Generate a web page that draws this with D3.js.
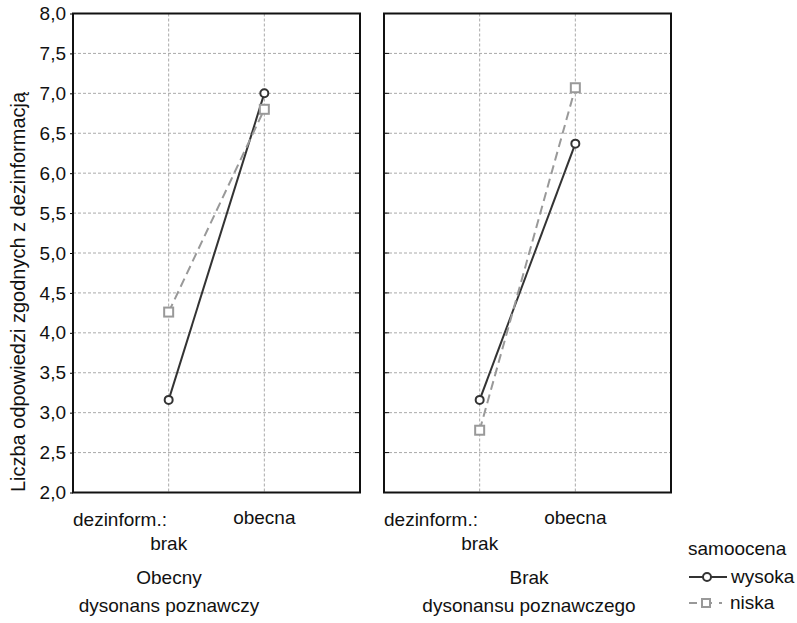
<!DOCTYPE html>
<html>
<head>
<meta charset="utf-8">
<script src="https://cdn.jsdelivr.net/npm/d3@7"></script>
<style>
  body { margin: 0; background: #fff; }
  text { font-family: 'Liberation Sans', Arial, sans-serif; fill: #111; }
</style>
</head>
<body>
<div id="chart"></div>
<script>
// data
var categories = ['brak', 'obecna'];
var panelTop = ['Obecny', 'Brak'];
var panelBottom = ['dysonans poznawczy', 'dysonansu poznawczego'];
var wysoka = [[3.16, 7.00], [3.16, 6.37]];
var niska = [[4.26, 6.80], [2.78, 7.07]];
var yTicks = [2.0, 2.5, 3.0, 3.5, 4.0, 4.5, 5.0, 5.5, 6.0, 6.5, 7.0, 7.5, 8.0];

var W = 797, H = 623;
var fs = 19;

var svg = d3.select('#chart').append('svg')
    .attr('width', W)
    .attr('height', H);

var yTop = 13.5, yBottom = 492.5;
var panelX = [73, 384], panelW = 287;

var yScale = d3.scaleLinear().domain([2, 8]).range([yBottom, yTop]);
var fmt = function(v) { return d3.format('.1f')(v).replace('.', ','); };

var series = [
    { name: 'wysoka', values: wysoka, color: '#333', dash: null, marker: 'circle' },
    { name: 'niska', values: niska, color: '#999', dash: '9,5', marker: 'square' }
];

panelX.forEach(function(px, p) {
    var g = svg.append('g').attr('transform', 'translate(' + px + ',0)');
    var xScale = d3.scalePoint().domain(categories).range([0, panelW]).padding(1);

    // grid
    g.selectAll('.hgrid').data(yTicks.slice(1, -1)).enter().append('line')
        .attr('x1', 0).attr('x2', panelW)
        .attr('y1', d => yScale(d)).attr('y2', d => yScale(d))
        .attr('stroke', '#aaa').attr('stroke-dasharray', '3,2');
    g.selectAll('.vgrid').data(categories).enter().append('line')
        .attr('x1', d => xScale(d)).attr('x2', d => xScale(d))
        .attr('y1', yTop).attr('y2', yBottom)
        .attr('stroke', '#aaa').attr('stroke-dasharray', '3,2');

    // ticks
    if (p === 0) {
        g.append('g')
            .call(d3.axisLeft(yScale).tickValues(yTicks).tickSize(3).tickFormat(fmt))
            .call(a => a.select('.domain').remove())
            .selectAll('text')
            .attr('x', -7)
            .style('font-size', fs + 'px');
        g.selectAll('.rtick').data(yTicks.slice(1, -1)).enter().append('line')
            .attr('x1', panelW - 5).attr('x2', panelW)
            .attr('y1', d => yScale(d)).attr('y2', d => yScale(d))
            .attr('stroke', '#111');
    } else {
        g.selectAll('.ltick').data(yTicks.slice(1, -1)).enter().append('line')
            .attr('x1', 0).attr('x2', 5)
            .attr('y1', d => yScale(d)).attr('y2', d => yScale(d))
            .attr('stroke', '#111');
    }

    // frame
    g.append('rect')
        .attr('x', 0).attr('y', yTop)
        .attr('width', panelW).attr('height', yBottom - yTop)
        .attr('fill', 'none').attr('stroke', '#111').attr('stroke-width', 2);

    // lines and markers
    series.forEach(function(s) {
        var pts = s.values[p].map(function(v, i) { return [xScale(categories[i]), yScale(v)]; });
        g.append('path')
            .attr('d', d3.line()(pts))
            .attr('fill', 'none')
            .attr('stroke', s.color)
            .attr('stroke-width', 2)
            .attr('stroke-dasharray', s.dash);
        if (s.marker === 'circle') {
            g.selectAll(null).data(pts).enter().append('circle')
                .attr('cx', d => d[0]).attr('cy', d => d[1]).attr('r', 4)
                .attr('fill', '#fff').attr('stroke', s.color).attr('stroke-width', 2);
        } else {
            g.selectAll(null).data(pts).enter().append('rect')
                .attr('x', d => d[0] - 4.5).attr('y', d => d[1] - 4.5)
                .attr('width', 9).attr('height', 9)
                .attr('fill', '#fff').attr('stroke', s.color).attr('stroke-width', 2);
        }
    });

    // category labels
    g.append('text').attr('x', 0).attr('y', 526)
        .style('font-size', fs + 'px').text('dezinform.:');
    g.append('text').attr('x', xScale('brak')).attr('y', 550)
        .attr('text-anchor', 'middle').style('font-size', fs + 'px').text(categories[0]);
    g.append('text').attr('x', xScale('obecna')).attr('y', 524)
        .attr('text-anchor', 'middle').style('font-size', fs + 'px').text(categories[1]);

    var cx = p === 0 ? 96 : 145;
    g.append('text').attr('x', cx).attr('y', 584)
        .attr('text-anchor', 'middle').style('font-size', fs + 'px').text(panelTop[p]);
    g.append('text').attr('x', cx).attr('y', 612)
        .attr('text-anchor', 'middle').style('font-size', fs + 'px').text(panelBottom[p]);
});

// y axis title
svg.append('text')
    .attr('transform', 'translate(25,' + 292 + ') rotate(-90)')
    .attr('text-anchor', 'middle')
    .style('font-size', (fs + 1) + 'px')
    .text('Liczba odpowiedzi zgodnych z dezinformacją');

// legend
var legend = svg.append('g');
legend.append('text').attr('x', 688).attr('y', 555)
    .style('font-size', fs + 'px').text('samoocena');
var leg = legend.selectAll('g.item').data(series).enter().append('g')
    .attr('transform', (d, i) => 'translate(0,' + (577 + i * 26) + ')');
leg.append('line')
    .attr('x1', 689).attr('x2', d => d.dash ? 722 : 727)
    .attr('stroke', d => d.color).attr('stroke-width', 2)
    .attr('stroke-dasharray', d => d.dash ? '8,7' : null);
leg.each(function(d) {
    var el = d3.select(this);
    if (d.marker === 'circle') {
        el.append('circle').attr('cx', 707).attr('r', 4)
            .attr('fill', '#fff').attr('stroke', d.color).attr('stroke-width', 2);
    } else {
        el.append('rect').attr('x', 702).attr('y', -4).attr('width', 8).attr('height', 8)
            .attr('fill', '#fff').attr('stroke', d.color).attr('stroke-width', 2);
    }
});
leg.append('text')
    .attr('x', d => d.marker === 'circle' ? 731 : 730)
    .attr('y', 6)
    .style('font-size', fs + 'px')
    .text(d => d.name);
</script>
</body>
</html>
